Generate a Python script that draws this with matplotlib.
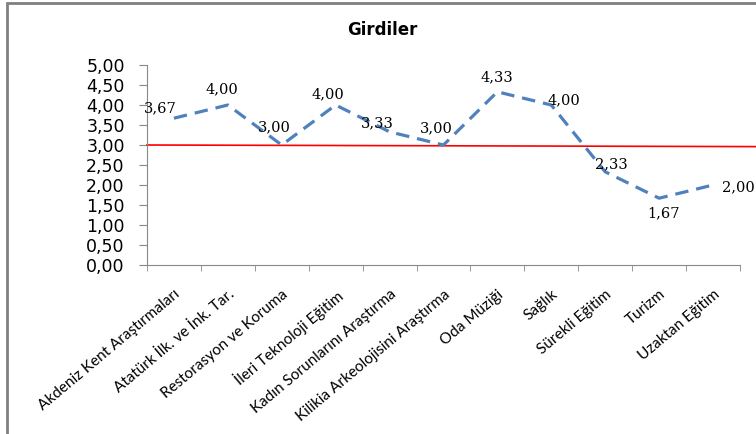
import numpy as np
import matplotlib.pyplot as plt
from matplotlib.ticker import FuncFormatter, MultipleLocator
from matplotlib.patches import Rectangle

# Data
categories = ["Akdeniz Kent Araştırmaları", "Atatürk İlk. ve İnk. Tar.", "Restorasyon ve Koruma",
              "İleri Teknoloji Eğitim", "Kadın Sorunlarını Araştırma", "Kilikia Arkeolojisini Araştırma",
              "Oda Müziği", "Sağlık", "Sürekli Eğitim", "Turizm", "Uzaktan Eğitim"]
scores = [3.67, 4.00, 3.00, 4.00, 3.33, 3.00, 4.33, 4.00, 2.33, 1.67, 2.00]
ref_line = [3.00, 2.96]  # red reference line, left end / right end
title = "Girdiler"

# label offsets in pixels (dx, dy)
label_offsets = [(-14, 10), (-6, 16), (-7, 18), (-8, 11), (-12, 9), (-7, 17),
                 (-1, 15), (13, 5), (6, 8), (4, -15), (25, -2)]

def comma(v, pos=None):
    return f"{v:.2f}".replace(".", ",")

fig = plt.figure(figsize=(7.56, 4.34), dpi=100)
ax = fig.add_axes([0.1944, 0.3894, 0.9788 - 0.1944, 0.8502 - 0.3894])

x = np.arange(len(categories))
ax.plot(x, scores, color="#4F81BD", lw=2.3, linestyle=(0, (4.2, 2.5)), zorder=3)

# red line runs past the plot to the right edge
x_end = len(categories) - 0.5 + 16 / 54
ax.plot([-0.5, x_end], ref_line, color="red", lw=1.2, clip_on=False, zorder=2)

for i, v in enumerate(scores):
    ax.annotate(comma(v), (x[i], v), xytext=label_offsets[i], textcoords="offset pixels",
                ha="center", va="center", fontsize=10.5, family="DejaVu Serif",
                annotation_clip=False, zorder=4)

ax.set_xlim(-0.5, len(categories) - 0.5)
ax.set_ylim(0, 5)
ax.yaxis.set_major_locator(MultipleLocator(0.5))
ax.yaxis.set_major_formatter(FuncFormatter(comma))
ax.tick_params(axis="y", labelsize=12.5, length=6, color="#888888", pad=10, labelcolor="black")

ax.set_xticks(x)
ax.set_xticklabels(categories, rotation=40, ha="right", va="top", rotation_mode="anchor",
                   fontsize=11, family="Lato")
ax.tick_params(axis="x", length=0, pad=16)
ax.set_xticks(np.arange(len(categories) + 1) - 0.5, minor=True)
ax.tick_params(axis="x", which="minor", length=4, color="#888888")

for s in ["top", "right"]:
    ax.spines[s].set_visible(False)
for s in ["left", "bottom"]:
    ax.spines[s].set_color("#888888")

fig.text(382 / 756, 1 - 30 / 434, title, ha="center", va="center",
         fontsize=12, fontweight="bold")

# outer chart frame
fig.patches.append(Rectangle((7 / 756, -0.1), 1.2, 1 - 3 / 434 + 0.1, transform=fig.transFigure,
                             fill=False, edgecolor="#808080", lw=2))

fig.savefig("out.png", dpi=100)
